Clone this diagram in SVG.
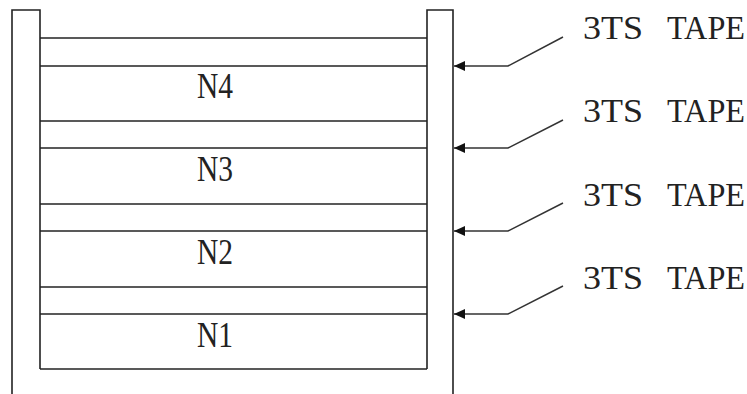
<svg xmlns="http://www.w3.org/2000/svg" width="747" height="394" viewBox="0 0 747 394">
<style>
.ln{stroke:#222;stroke-width:1.6;fill:none}
.lbl{font-family:"Liberation Serif",serif;font-size:35px;fill:#222}
.tape{font-family:"Liberation Serif",serif;font-size:33px;fill:#222}
.conn{stroke:#333;stroke-width:1.5;fill:none}
</style>
<defs>
<marker id="ah" markerWidth="12" markerHeight="12" refX="11" refY="5" orient="auto" markerUnits="userSpaceOnUse">
<path d="M0,0 L11,5 L0,10 Z" fill="#111"/>
</marker>
</defs>
<rect width="747" height="394" fill="#fff"/>
<g id="left-post">
<path class="ln" d="M12,394 V10 H40 V369"/>
</g>
<g id="right-post">
<path class="ln" d="M427,369 V10 H453 V394"/>
</g>
<g id="tape-gap-4"><line class="ln" x1="40" y1="38" x2="427" y2="38"/></g>
<g id="N4">
<line class="ln" x1="40" y1="66" x2="427" y2="66"/>
<text class="lbl" x="215" y="98" text-anchor="middle" textLength="36" lengthAdjust="spacingAndGlyphs">N4</text>
</g>
<g id="tape-gap-3"><line class="ln" x1="40" y1="121" x2="427" y2="121"/></g>
<g id="N3">
<line class="ln" x1="40" y1="148" x2="427" y2="148"/>
<text class="lbl" x="215" y="181" text-anchor="middle" textLength="36" lengthAdjust="spacingAndGlyphs">N3</text>
</g>
<g id="tape-gap-2"><line class="ln" x1="40" y1="204" x2="427" y2="204"/></g>
<g id="N2">
<line class="ln" x1="40" y1="231" x2="427" y2="231"/>
<text class="lbl" x="215" y="264" text-anchor="middle" textLength="36" lengthAdjust="spacingAndGlyphs">N2</text>
</g>
<g id="tape-gap-1"><line class="ln" x1="40" y1="287" x2="427" y2="287"/></g>
<g id="N1">
<line class="ln" x1="40" y1="314" x2="427" y2="314"/>
<line class="ln" x1="40" y1="369" x2="427" y2="369"/>
<text class="lbl" x="215" y="347" text-anchor="middle" textLength="36" lengthAdjust="spacingAndGlyphs">N1</text>
</g>
<g id="tape-label-4"><text class="tape" y="39"><tspan x="583" textLength="60" lengthAdjust="spacingAndGlyphs">3TS</tspan> <tspan x="667" textLength="78" lengthAdjust="spacingAndGlyphs">TAPE</tspan></text></g>
<g id="tape-label-3"><text class="tape" y="122"><tspan x="583" textLength="60" lengthAdjust="spacingAndGlyphs">3TS</tspan> <tspan x="667" textLength="78" lengthAdjust="spacingAndGlyphs">TAPE</tspan></text></g>
<g id="tape-label-2"><text class="tape" y="206"><tspan x="583" textLength="60" lengthAdjust="spacingAndGlyphs">3TS</tspan> <tspan x="667" textLength="78" lengthAdjust="spacingAndGlyphs">TAPE</tspan></text></g>
<g id="tape-label-1"><text class="tape" y="289"><tspan x="583" textLength="60" lengthAdjust="spacingAndGlyphs">3TS</tspan> <tspan x="667" textLength="78" lengthAdjust="spacingAndGlyphs">TAPE</tspan></text></g>
<g id="connectors">
<path class="conn" d="M563,37 L508,66 H454" marker-end="url(#ah)"/>
<path class="conn" d="M563,120 L508,148 H454" marker-end="url(#ah)"/>
<path class="conn" d="M563,203 L508,231 H454" marker-end="url(#ah)"/>
<path class="conn" d="M563,286 L508,314 H454" marker-end="url(#ah)"/>
</g>
</svg>
